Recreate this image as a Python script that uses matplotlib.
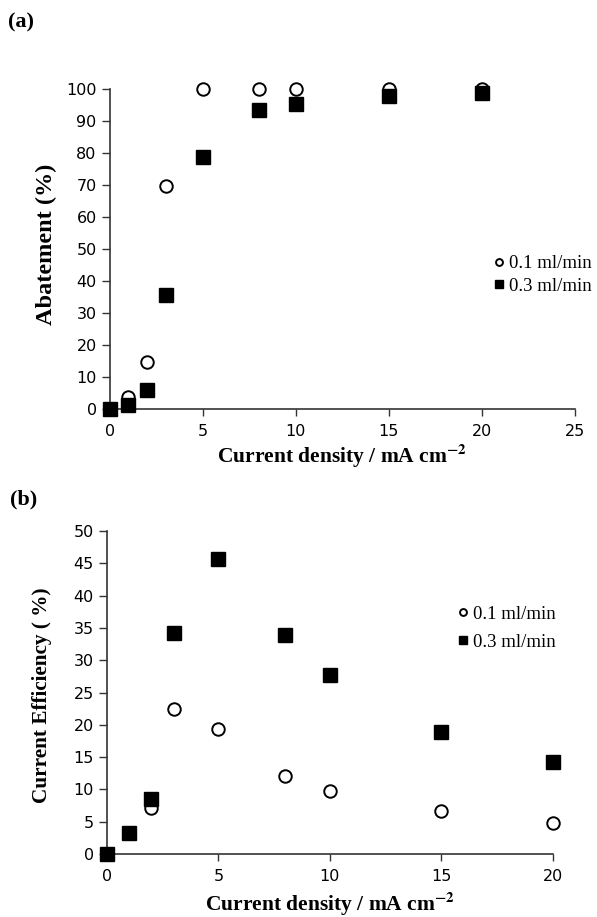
import matplotlib
matplotlib.use('Agg')
import matplotlib.pyplot as plt

plt.rcParams['mathtext.fontset'] = 'stix'

# current density (mA cm-2)
x_a = [0, 1, 2, 3, 5, 8, 10, 15, 20]
abat_01 = [0, 3.7, 14.8, 69.7, 100, 100, 100, 100, 100]
abat_03 = [0, 1.2, 5.9, 35.6, 78.8, 93.4, 95.3, 97.8, 98.6]

x_b = [0, 1, 2, 3, 5, 8, 10, 15, 20]
eff_01 = [0, 3.3, 7.1, 22.5, 19.3, 12.1, 9.8, 6.6, 4.8]
eff_03 = [0, 3.3, 8.5, 34.3, 45.7, 34.0, 27.7, 18.9, 14.3]

labels = ['0.1 ml/min', '0.3 ml/min']
xlabel = 'Current density / mA cm$^{\\mathbf{-2}}$'

serif = 'Liberation Serif'
tickfont = 'DejaVu Sans'

fig = plt.figure(figsize=(5.97, 9.17), dpi=100)
ax1 = fig.add_axes([0.184, 0.554, 0.779, 0.349])
ax2 = fig.add_axes([0.179, 0.0687, 0.747, 0.352])


def style(ax):
    for s in ['top', 'right']:
        ax.spines[s].set_visible(False)
    for s in ['left', 'bottom']:
        ax.spines[s].set_color('#333333')
        ax.spines[s].set_linewidth(1.2)
    ax.tick_params(axis='y', direction='out', length=6, width=1, colors='#333333',
                   labelcolor='black', labelsize=11.5)
    ax.tick_params(axis='x', direction='out', length=5, width=1, colors='#333333',
                   labelcolor='black', labelsize=11.5, pad=6)
    for lab in ax.get_xticklabels() + ax.get_yticklabels():
        lab.set_fontfamily(tickfont)


# panel (a)
ax1.plot(x_a, abat_01, 'o', mfc='white', mec='black', mew=1.4, ms=9, label=labels[0], clip_on=False, zorder=3)
ax1.plot(x_a, abat_03, 's', color='black', ms=9.5, label=labels[1], clip_on=False, zorder=4)
ax1.set_xlim(0, 25)
ax1.set_ylim(0, 100)
ax1.set_xticks([0, 5, 10, 15, 20, 25])
ax1.set_yticks(range(0, 101, 10))
style(ax1)
ax1.set_ylabel('Abatement (%)', fontfamily=serif, fontweight='bold', fontsize=17.5)
ax1.yaxis.set_label_coords(-0.114, 0.516)
ax1.set_xlabel(xlabel, fontfamily=serif, fontweight='bold', fontsize=15.5, labelpad=2)
fig.legend(handles=ax1.lines, labels=labels, loc='center left', bbox_to_anchor=(0.823, 0.700),
           bbox_transform=fig.transFigure, frameon=False, borderpad=0, borderaxespad=0,
           handletextpad=0.15, handlelength=0.8, markerscale=0.55, labelspacing=0.3,
           prop={'family': serif, 'size': 13.5})

# panel (b)
ax2.plot(x_b, eff_01, 'o', mfc='white', mec='black', mew=1.4, ms=9, label=labels[0], clip_on=False, zorder=3)
ax2.plot(x_b, eff_03, 's', color='black', ms=9.5, label=labels[1], clip_on=False, zorder=4)
ax2.set_xlim(0, 20)
ax2.set_ylim(0, 50)
ax2.set_xticks([0, 5, 10, 15, 20])
ax2.set_yticks(range(0, 51, 5))
style(ax2)
ax2.set_ylabel('Current Efficiency ( %)', fontfamily=serif, fontweight='bold', fontsize=15.3)
ax2.yaxis.set_label_coords(-0.123, 0.492)
ax2.set_xlabel(xlabel, fontfamily=serif, fontweight='bold', fontsize=15.5, labelpad=4)
fig.legend(handles=ax2.lines, labels=labels, loc='center left', bbox_to_anchor=(0.763, 0.315),
           bbox_transform=fig.transFigure, frameon=False, borderpad=0, borderaxespad=0,
           handletextpad=0.15, handlelength=0.8, markerscale=0.55, labelspacing=0.6,
           prop={'family': serif, 'size': 13.5})

fig.text(0.013, 0.976, '(a)', fontfamily=serif, fontweight='bold', fontsize=16, va='center')
fig.text(0.017, 0.455, '(b)', fontfamily=serif, fontweight='bold', fontsize=16, va='center')

fig.savefig('out.png', dpi=100)
